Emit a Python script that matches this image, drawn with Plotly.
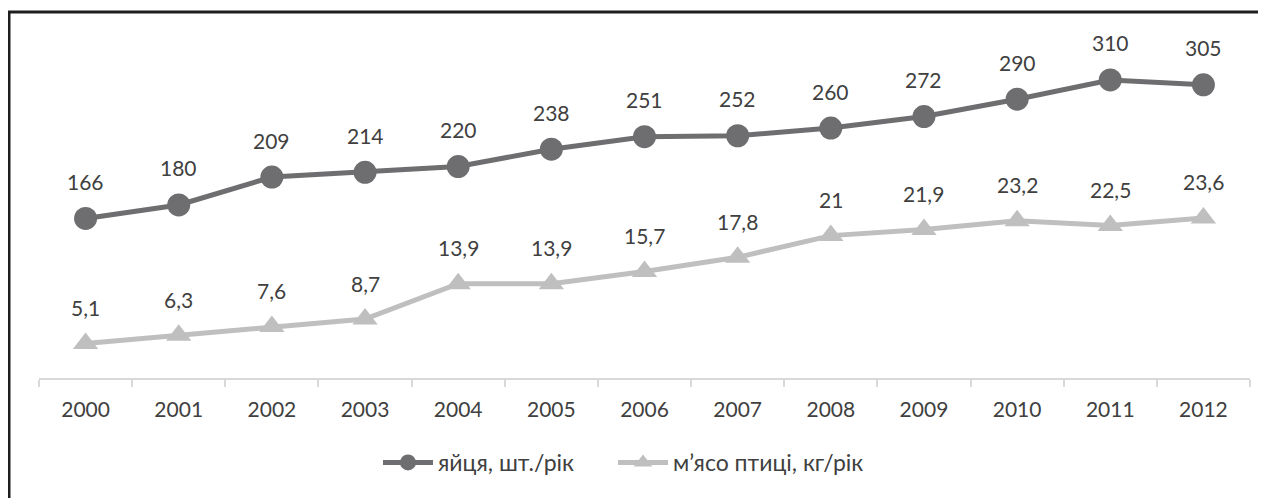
import plotly.graph_objects as go

years = ["2000", "2001", "2002", "2003", "2004", "2005", "2006",
         "2007", "2008", "2009", "2010", "2011", "2012"]
eggs = [166, 180, 209, 214, 220, 238, 251, 252, 260, 272, 290, 310, 305]
meat = [5.1, 6.3, 7.6, 8.7, 13.9, 13.9, 15.7, 17.8, 21, 21.9, 23.2, 22.5, 23.6]
eggs_name = "яйця, шт./рік"
meat_name = "м’ясо птиці, кг/рік"

def fmt(v):
    s = ("%g" % v)
    return s.replace(".", ",")

# page body has an 8px default margin; figure coordinates are offset by it
OFF = 8
W, H = 1266 - OFF, 498 - OFF
ML, MT = 39 - OFF, 40 - OFF
MR = W - (1250 - OFF)
MB = H - (378 - OFF)
pw = W - ML - MR
ph = H - MT - MB

egg_col = "#6e6e70"
meat_col = "#bfbfbf"
txt_col = "#404040"
font_fam = "Lato, 'Open Sans', sans-serif"

fig = go.Figure()
fig.add_trace(go.Scatter(
    x=years, y=eggs, name=eggs_name, mode="lines+markers",
    line=dict(color=egg_col, width=5),
    marker=dict(symbol="circle", size=23, color=egg_col),
    yaxis="y", legend="legend"))
fig.add_trace(go.Scatter(
    x=years, y=meat, name=meat_name, mode="lines+markers",
    line=dict(color=meat_col, width=5),
    marker=dict(symbol="triangle-up", size=22, color=meat_col),
    yaxis="y2", legend="legend2"))

anns = []
for i, v in enumerate(eggs):
    anns.append(dict(x=i, y=v, xref="x", yref="y", text=fmt(v), showarrow=False,
                     yshift=37, font=dict(size=21, color=txt_col, family=font_fam)))
for i, v in enumerate(meat):
    anns.append(dict(x=i, y=v, xref="x", yref="y2", text=fmt(v), showarrow=False,
                     yshift=36, font=dict(size=21, color=txt_col, family=font_fam)))

x0 = (9 - 39) / pw
x1 = (1320 - 39) / pw
y1 = (378 - 12) / ph
y0 = (378 - 560) / ph

leg_common = dict(orientation="h", xanchor="left", y=-0.25, yanchor="middle",
                  font=dict(size=23, color=txt_col), itemwidth=50,
                  bgcolor="rgba(0,0,0,0)")

fig.update_layout(
    width=W, height=H,
    margin=dict(l=ML, r=MR, t=MT, b=MB, autoexpand=False),
    paper_bgcolor="white", plot_bgcolor="white",
    font=dict(family=font_fam, size=21, color=txt_col),
    showlegend=True,
    legend=dict(x=(378 - 39) / pw, **leg_common),
    legend2=dict(x=(613 - 39) / pw, **leg_common),
    xaxis=dict(type="category", range=[-0.5, len(years) - 0.5], autorange=False,
               showline=True, linecolor="#d9d9d9", linewidth=2,
               ticks="outside", tickson="boundaries", ticklen=7, tickcolor="#d9d9d9",
               tickwidth=2, showgrid=False, zeroline=False, tickangle=0,
               automargin=False, ticklabelstandoff=12,
               tickfont=dict(size=21, color=txt_col, family=font_fam)),
    yaxis=dict(range=[0, 351.6], visible=False, showgrid=False, zeroline=False),
    yaxis2=dict(range=[0, 49.85], overlaying="y", visible=False, showgrid=False,
                zeroline=False),
    annotations=anns,
    shapes=[dict(type="rect", xref="paper", yref="paper", x0=x0, x1=x1, y0=y0, y1=y1,
                 line=dict(color="#1e1e1e", width=3), fillcolor="rgba(0,0,0,0)",
                 layer="above")],
)

fig.write_html("out.html")
